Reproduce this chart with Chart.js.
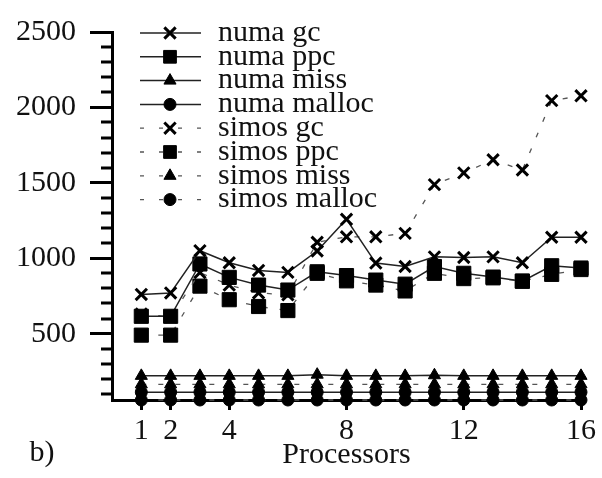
<!DOCTYPE html>
<html>
<head>
<meta charset="utf-8">
<script src="https://cdn.jsdelivr.net/npm/chart.js@4.4.1/dist/chart.umd.min.js"></script>
<style>
    html, body { margin: 0; padding: 0; background: #fff; }
    #wrap { width: 602px; height: 478px; }
</style>
</head>
<body>
<div id="wrap"><canvas id="chart" width="602" height="478"></canvas></div>
<script>
// processors on the x axis
const processors = [1, 2, 3, 4, 5, 6, 7, 8, 9, 10, 11, 12, 13, 14, 15, 16];
const xTicks = [1, 2, 4, 8, 12, 16];
const yTicks = [500, 1000, 1500, 2000, 2500];
const yMinorTicks = [100, 200, 300, 400, 600, 700, 800, 900, 1100, 1200, 1300, 1400,
    1600, 1700, 1800, 1900, 2100, 2200, 2300, 2400];

// values
const numaGc = [760, 770, 1050, 970, 919, 906, 1048, 1258, 968, 945, 1009, 1005, 1009, 970, 1139, 1139];
const numaPpc = [615, 615, 962, 873, 822, 789, 910, 885, 855, 828, 945, 900, 875, 848, 950, 935];
const numaMiss = [220, 220, 220, 220, 220, 220, 228, 220, 220, 220, 224, 220, 220, 220, 220, 220];
const numaMalloc = [112, 112, 112, 112, 112, 112, 112, 112, 112, 112, 112, 112, 112, 112, 112, 112];
const simosGc = [630, 612, 905, 822, 770, 757, 1106, 1142, 1142, 1165, 1488, 1566, 1653, 1585, 2045, 2077];
const simosPpc = [490, 490, 815, 725, 680, 653, 900, 850, 822, 783, 900, 865, 870, 848, 893, 925];
const simosMiss = [164, 164, 164, 164, 164, 164, 164, 164, 164, 164, 164, 164, 164, 164, 164, 164];
const simosMalloc = [60, 60, 60, 60, 60, 60, 60, 60, 60, 60, 60, 60, 60, 60, 60, 60];

const FONT = "'Liberation Serif', 'DejaVu Serif', serif";

function series(label, values, style, radius, dashed) {
    return {
        label: label,
        data: processors.map((p, i) => ({ x: p, y: values[i] })),
        borderColor: dashed ? '#555' : '#222',
        borderWidth: dashed ? 1.3 : 1.5,
        borderDash: dashed ? [5, 12] : [],
        pointStyle: style,
        pointRadius: radius,
        pointBorderWidth: style === 'crossRot' ? 3 : 1,
        pointBackgroundColor: '#000',
        pointBorderColor: '#000',
        tension: 0,
        clip: false
    };
}

const datasets = [
    series('numa gc', numaGc, 'crossRot', 8, false),
    series('numa ppc', numaPpc, 'rect', 10, false),
    series('numa miss', numaMiss, 'triangle', 7, false),
    series('numa malloc', numaMalloc, 'circle', 6, false),
    series('simos gc', simosGc, 'crossRot', 8, true),
    series('simos ppc', simosPpc, 'rect', 10, true),
    series('simos miss', simosMiss, 'triangle', 7, true),
    series('simos malloc', simosMalloc, 'circle', 6, true)
];

// legend with line + marker, drawn inside the plot
const legendPlugin = {
    id: 'lineLegend',
    afterDraw(chart) {
        const ctx = chart.ctx;
        ctx.save();
        chart.data.datasets.forEach((ds, i) => {
            const y = 33 + i * 23.8;
            ctx.strokeStyle = ds.borderColor;
            ctx.lineWidth = ds.borderWidth;
            ctx.setLineDash(ds.borderDash.length ? [4, 15] : []);
            ctx.beginPath();
            ctx.moveTo(140, y);
            ctx.lineTo(201, y);
            ctx.stroke();
            ctx.setLineDash([]);
            ctx.fillStyle = '#000';
            ctx.strokeStyle = '#000';
            ctx.lineWidth = ds.pointBorderWidth;
            Chart.helpers.drawPoint(ctx, {
                pointStyle: ds.pointStyle,
                radius: ds.pointStyle === 'rect' ? 9 : ds.pointRadius,
                rotation: 0,
                borderWidth: ds.pointBorderWidth
            }, 170, y);
            ctx.fillStyle = '#111';
            ctx.font = '30px ' + FONT;
            ctx.textBaseline = 'middle';
            ctx.textAlign = 'left';
            ctx.fillText(ds.label, 218, y);
        });

        // minor ticks on the y axis
        const ys = chart.scales.y;
        ctx.strokeStyle = '#000';
        ctx.lineWidth = 3;
        yMinorTicks.forEach(v => {
            const py = Math.round(ys.getPixelForValue(v));
            ctx.beginPath();
            ctx.moveTo(ys.right - 11, py);
            ctx.lineTo(ys.right, py);
            ctx.stroke();
        });

        ctx.fillStyle = '#111';
        ctx.font = '30px ' + FONT;
        ctx.textAlign = 'center';
        ctx.textBaseline = 'middle';
        ctx.fillText('b)', 42, 453);
        ctx.restore();
    }
};

new Chart(document.getElementById('chart'), {
    type: 'line',
    data: { datasets: datasets },
    options: {
        responsive: false,
        animation: false,
        devicePixelRatio: 1,
        layout: { padding: { top: 22, right: 16, left: 0, bottom: 0 } },
        plugins: {
            legend: { display: false },
            tooltip: { enabled: false }
        },
        scales: {
            x: {
                type: 'linear',
                min: 0,
                max: 16,
                afterBuildTicks: s => { s.ticks = xTicks.map(v => ({ value: v })); },
                afterFit: s => { s.height = 78; },
                grid: { drawOnChartArea: false, drawTicks: true, tickLength: 10, tickWidth: 3, tickColor: '#000' },
                border: { display: true, width: 3, color: '#000' },
                ticks: { color: '#111', font: { family: FONT, size: 30, lineHeight: 1 }, padding: 6, maxRotation: 0, autoSkip: false,
                    callback: v => String(v) },
                title: { display: true, text: 'Processors', color: '#111', font: { family: FONT, size: 30, lineHeight: 1 }, padding: { top: 0, bottom: 8 } }
            },
            y: {
                min: 60,
                max: 2500,
                afterBuildTicks: s => { s.ticks = yTicks.map(v => ({ value: v })); },
                afterFit: s => { s.width = 112; },
                grid: { drawOnChartArea: false, drawTicks: true, tickLength: 22, tickWidth: 3, tickColor: '#000' },
                border: { display: true, width: 3, color: '#000' },
                ticks: { color: '#111', font: { family: FONT, size: 30 }, padding: 14, callback: v => String(v) }
            }
        }
    },
    plugins: [legendPlugin]
});
</script>
</body>
</html>
